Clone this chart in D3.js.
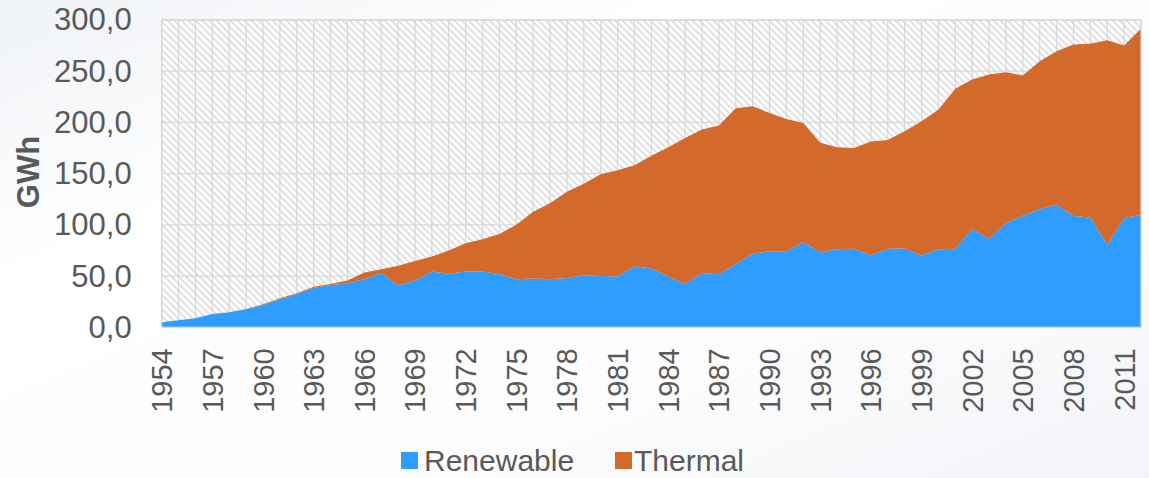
<!DOCTYPE html>
<html>
<head>
<meta charset="utf-8">
<script src="https://cdn.jsdelivr.net/npm/d3@7"></script>
<style>
  html, body { margin: 0; padding: 0; }
  body { width: 1149px; height: 478px; overflow: hidden; background: #fff; }
  text { font-family: "Liberation Sans", Arial, sans-serif; }
</style>
</head>
<body>
<div id="app"></div>
<script>
// categories
const years = d3.range(1954, 2013);
const xTickYears = d3.range(1954, 2012, 3);
const yTicks = [0, 50, 100, 150, 200, 250, 300];

// series values (GWh)
const renewable = [
  5, 7, 8.8, 13, 14.7, 17.6, 21.8, 27.4, 32.6, 38.7,
  41, 43, 47, 53, 41, 45.6, 54.4, 52.4, 54.4, 54.5,
  52, 47, 47.6, 47, 48.2, 50.8, 50.2, 49.5, 59.6, 57.3,
  49.5, 42.3, 53.1, 51.8, 61.9, 71.7, 74.3, 74.3, 83.1, 73.3,
  76.3, 76.6, 70.4, 76.6, 76.9, 70, 76.3, 76.6, 96.1, 86.1,
  101.7, 108.9, 115.4, 119.6, 108.6, 107.2, 80.5, 106.6, 109.8
];
const thermal = [
  0, 0, 0, 0, 0, 0.2, 0.8, 1, 0.7, 1,
  1.3, 2.6, 6.5, 3.6, 19, 19.2, 14.6, 22.6, 27.6, 31.5,
  39.2, 53, 65.2, 74.2, 84.1, 89.4, 99.1, 103.7, 98.5, 110.2,
  126.2, 142.5, 139.9, 145.1, 151.9, 144.1, 135, 129.1, 116.4, 106.9,
  99.4, 98.5, 111.1, 106.3, 114.4, 131.1, 136.2, 156.2, 145.8, 160.7,
  147.3, 136.9, 144.4, 149.9, 167.5, 169.6, 199.8, 168.5, 181.8
];
const seriesNames = ['Renewable', 'Thermal'];
const seriesColors = ['#2F9CFF', '#D4692C'];

const width = 1149, height = 478;
const plotLeft = 161.7, plotRight = 1141, plotTop = 20, plotBottom = 327.3;

const svg = d3.select('#app').append('svg')
  .attr('width', width)
  .attr('height', height);

const defs = svg.append('defs');

// faint slide background
const bg = defs.append('linearGradient')
  .attr('id', 'bg')
  .attr('x1', '0%').attr('y1', '0%')
  .attr('x2', '100%').attr('y2', '100%');
bg.append('stop').attr('offset', '0%').attr('stop-color', '#eff2f6');
bg.append('stop').attr('offset', '30%').attr('stop-color', '#ffffff');
bg.append('stop').attr('offset', '70%').attr('stop-color', '#fcfcfd');
bg.append('stop').attr('offset', '100%').attr('stop-color', '#f2f4f8');
svg.append('rect').attr('width', width).attr('height', height).attr('fill', 'url(#bg)');

// hatch pattern for the plot area
const pat = defs.append('pattern')
  .attr('id', 'hatch')
  .attr('patternUnits', 'userSpaceOnUse')
  .attr('width', 7).attr('height', 7);
pat.append('rect').attr('width', 7).attr('height', 7).attr('fill', '#ffffff');
pat.append('path')
  .attr('d', 'M-1,-1 L8,8 M-1,6 L1,8 M6,-1 L8,1')
  .attr('stroke', '#e2e2e2')
  .attr('stroke-width', 2);

const x = d3.scaleLinear().domain([years[0], years[years.length - 1]]).range([plotLeft, plotRight]);
const y = d3.scaleLinear().domain([0, 300]).range([plotBottom, plotTop]);

svg.append('rect')
  .attr('x', plotLeft).attr('y', plotTop)
  .attr('width', plotRight - plotLeft).attr('height', plotBottom - plotTop)
  .attr('fill', 'url(#hatch)');

// gridlines
svg.append('g')
  .selectAll('line')
  .data(years)
  .join('line')
  .attr('x1', d => x(d)).attr('x2', d => x(d))
  .attr('y1', plotTop).attr('y2', plotBottom)
  .attr('stroke', '#d9d9d9')
  .attr('stroke-width', 1.3);

svg.append('g')
  .selectAll('line')
  .data(yTicks)
  .join('line')
  .attr('x1', plotLeft).attr('x2', plotRight)
  .attr('y1', d => y(d)).attr('y2', d => y(d))
  .attr('stroke', '#d9d9d9')
  .attr('stroke-width', 1.3);

// stacked areas
const table = years.map((yr, i) => ({ year: yr, Renewable: renewable[i], Thermal: thermal[i] }));
const stacked = d3.stack().keys(seriesNames)(table);

const area = d3.area()
  .x(d => x(d.data.year))
  .y0(d => y(d[0]))
  .y1(d => y(d[1]));

svg.append('g')
  .selectAll('path')
  .data(stacked)
  .join('path')
  .attr('d', area)
  .attr('fill', (d, i) => seriesColors[i]);

// plot border
svg.append('rect')
  .attr('x', plotLeft).attr('y', plotTop)
  .attr('width', plotRight - plotLeft).attr('height', plotBottom - plotTop)
  .attr('fill', 'none')
  .attr('stroke', '#d9d9d9')
  .attr('stroke-width', 1.3);

// y axis
const yAxis = svg.append('g')
  .attr('transform', `translate(${plotLeft},0)`)
  .call(d3.axisLeft(y)
    .tickValues(yTicks)
    .tickSize(0)
    .tickPadding(30)
    .tickFormat(d => d3.format('.1f')(d).replace('.', ',')));
yAxis.select('.domain').remove();
yAxis.selectAll('text')
  .attr('fill', '#595959')
  .style('font-size', '31px')
  .style('font-family', '"Liberation Sans", Arial, sans-serif');

// x axis
const xAxis = svg.append('g')
  .attr('transform', `translate(0,${plotBottom})`)
  .call(d3.axisBottom(x)
    .tickValues(xTickYears)
    .tickSize(0)
    .tickFormat(d3.format('d')));
xAxis.select('.domain').remove();
xAxis.selectAll('text')
  .attr('fill', '#595959')
  .style('font-size', '29px')
  .style('font-family', '"Liberation Sans", Arial, sans-serif')
  .attr('text-anchor', 'end')
  .attr('dy', null)
  .attr('y', 0)
  .attr('transform', 'translate(10,21) rotate(-90)');

// y axis title
svg.append('text')
  .attr('transform', `translate(39,172) rotate(-90)`)
  .attr('text-anchor', 'middle')
  .attr('fill', '#595959')
  .style('font-size', '31px')
  .style('font-weight', 'bold')
  .text('GWh');

// legend
const legendItems = [
  { name: seriesNames[0], color: seriesColors[0], x: 401, tx: 424 },
  { name: seriesNames[1], color: seriesColors[1], x: 615, tx: 634 }
];
const lg = svg.append('g').selectAll('g')
  .data(legendItems)
  .join('g');
lg.append('rect')
  .attr('x', d => d.x)
  .attr('y', 452)
  .attr('width', 17).attr('height', 17)
  .attr('fill', d => d.color);
lg.append('text')
  .attr('x', d => d.tx)
  .attr('y', 471)
  .attr('fill', '#595959')
  .style('font-size', '30px')
  .text(d => d.name);
</script>
</body>
</html>
